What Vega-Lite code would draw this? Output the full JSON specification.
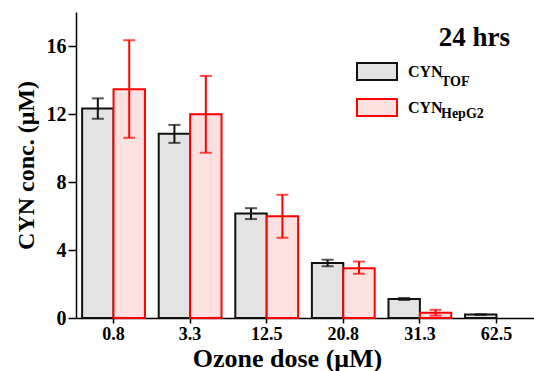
{
  "$schema": "https://vega.github.io/schema/vega-lite/v6.json",
  "width": 458,
  "height": 306,
  "autosize": {"type": "none"},
  "padding": {"left": 76, "top": 12, "right": 0, "bottom": 53},
  "background": "white",
  "title": {
    "text": "24 hrs",
    "anchor": "end",
    "frame": "group",
    "font": "Liberation Serif",
    "fontSize": 27,
    "fontWeight": "bold",
    "color": "black",
    "dy": 44,
    "dx": -24
  },
  "config": {
    "view": {"stroke": null},
    "axis": {"grid": false, "domainColor": "black", "tickColor": "black", "domainWidth": 1.5, "tickWidth": 1.5, "labelColor": "black", "titleColor": "black", "labelFont": "Liberation Serif", "titleFont": "Liberation Serif", "labelFontWeight": "bold", "titleFontWeight": "bold"},
    "legend": {"padding": 0, "rowPadding": 0}
  },
  "data": {
    "values": [
      {"dose": "0.8", "series": "TOF", "value": 12.33, "lo": 11.72, "hi": 12.92},
      {"dose": "0.8", "series": "HepG2", "value": 13.45, "lo": 10.6, "hi": 16.34},
      {"dose": "3.3", "series": "TOF", "value": 10.84, "lo": 10.3, "hi": 11.36},
      {"dose": "3.3", "series": "HepG2", "value": 11.98, "lo": 9.72, "hi": 14.24},
      {"dose": "12.5", "series": "TOF", "value": 6.14, "lo": 5.82, "hi": 6.46},
      {"dose": "12.5", "series": "HepG2", "value": 5.98, "lo": 4.72, "hi": 7.25},
      {"dose": "20.8", "series": "TOF", "value": 3.23, "lo": 3.04, "hi": 3.42},
      {"dose": "20.8", "series": "HepG2", "value": 2.93, "lo": 2.6, "hi": 3.32},
      {"dose": "31.3", "series": "TOF", "value": 1.12, "lo": 1.06, "hi": 1.18},
      {"dose": "31.3", "series": "HepG2", "value": 0.31, "lo": 0.14, "hi": 0.48},
      {"dose": "62.5", "series": "TOF", "value": 0.2, "lo": 0.18, "hi": 0.22},
      {"dose": "62.5", "series": "HepG2", "value": null, "lo": null, "hi": null}
    ]
  },
  "encoding": {
    "x": {
      "field": "dose",
      "type": "nominal",
      "sort": ["0.8", "3.3", "12.5", "20.8", "31.3", "62.5"],
      "scale": {"paddingInner": 0.18, "paddingOuter": 0.08},
      "axis": {"title": "Ozone dose (μM)", "labelAngle": 0, "labelFontSize": 18, "titleFontSize": 26, "tickSize": 5, "labelPadding": 2, "titleX": 211, "titleY": 48, "titleAlign": "center", "titleBaseline": "alphabetic"}
    },
    "xOffset": {"field": "series", "type": "nominal", "sort": ["TOF", "HepG2"], "scale": {"paddingInner": 0, "paddingOuter": 0}}
  },
  "layer": [
    {
      "mark": {"type": "bar", "strokeWidth": 2},
      "encoding": {
        "y": {
          "field": "value",
          "type": "quantitative",
          "scale": {"domain": [0, 18], "nice": false},
          "axis": {
            "title": "CYN conc. (μM)",
            "values": [0, 2, 4, 6, 8, 10, 12, 14, 16],
            "labelExpr": "datum.value % 4 === 0 ? datum.label : ''",
            "tickSize": {"condition": {"test": "datum.value % 4 === 0", "value": 8}, "value": 4},
            "labelFontSize": 20,
            "labelPadding": 2,
            "titleFontSize": 24,
            "titlePadding": 8
          }
        },
        "fill": {
          "field": "series",
          "type": "nominal",
          "sort": ["TOF", "HepG2"],
          "scale": {"range": ["#e3e3e3", "#fde0e0"]},
          "legend": {"orient": "none", "legendX": 280, "legendY": 38.5, "title": null, "labelExpr": "'CYN'", "symbolType": "M-1,0.525M-1,-0.425h2v0.85h-2z", "symbolSize": 1600, "symbolStrokeWidth": 2, "symbolStrokeColor": "transparent", "labelFont": "Liberation Serif", "labelFontWeight": "bold", "labelFontSize": 16, "labelColor": "black", "labelOffset": 10, "rowPadding": 0}
        },
        "stroke": {
          "field": "series",
          "type": "nominal",
          "scale": {"domain": ["TOF", "HepG2"], "range": ["#111111", "#ff0000"]},
          "legend": {"orient": "none", "legendX": 280, "legendY": 38.5, "title": null, "labelExpr": "''", "symbolType": "M-1,0.525M-1,-0.425h2v0.85h-2z", "symbolSize": 1600, "symbolStrokeWidth": 2, "symbolFillColor": "transparent", "labelFont": "Liberation Serif", "labelFontWeight": "bold", "labelFontSize": 16, "labelColor": "black", "labelOffset": 10, "rowPadding": 0}
        },
        "opacity": {
          "field": "series",
          "type": "ordinal",
          "sort": "descending",
          "scale": {"range": [1, 1]},
          "legend": {"orient": "none", "legendX": 315, "legendY": 50, "title": null, "symbolType": "M-1,0M1,0.6", "symbolSize": 1600, "symbolStrokeWidth": 0, "symbolFillColor": "transparent", "symbolStrokeColor": "transparent", "symbolOpacity": 0, "labelFont": "Liberation Serif", "labelFontWeight": "bold", "labelFontSize": 14, "labelColor": "black", "labelOffset": 10, "rowPadding": 0}
        }
      }
    },
    {
      "mark": {"type": "rule", "strokeWidth": 2},
      "encoding": {
        "y": {"field": "lo", "type": "quantitative"},
        "y2": {"field": "hi"},
        "color": {"field": "series", "type": "nominal", "sort": ["TOF", "HepG2"], "scale": {"range": ["#111111", "#ff0000"]}, "legend": null}
      }
    },
    {
      "mark": {"type": "tick", "size": 12, "thickness": 2},
      "encoding": {
        "y": {"field": "hi", "type": "quantitative"},
        "color": {"field": "series", "type": "nominal", "sort": ["TOF", "HepG2"], "scale": {"range": ["#111111", "#ff0000"]}, "legend": null}
      }
    },
    {
      "mark": {"type": "tick", "size": 12, "thickness": 2},
      "encoding": {
        "y": {"field": "lo", "type": "quantitative"},
        "color": {"field": "series", "type": "nominal", "sort": ["TOF", "HepG2"], "scale": {"range": ["#111111", "#ff0000"]}, "legend": null}
      }
    }
  ]
}
